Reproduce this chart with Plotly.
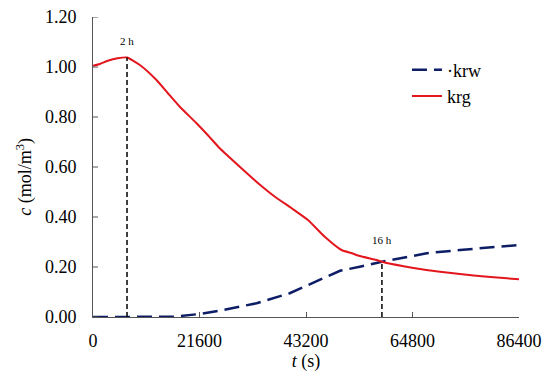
import plotly.graph_objects as go

# krg (red, solid)
t_krg = [0, 1400, 3000, 5000, 6900, 9500, 12870, 15200, 17600, 21000, 23400, 25700,
         30100, 33500, 36900, 40300, 43600, 47000, 50400, 52500, 54100, 57500, 58600,
         63000, 67600, 74400, 80000, 86400]
c_krg = [1.005, 1.012, 1.025, 1.035, 1.038, 1.008, 0.948, 0.895, 0.841, 0.775, 0.725, 0.675,
         0.595, 0.535, 0.481, 0.435, 0.388, 0.321, 0.268, 0.255, 0.244, 0.228, 0.221,
         0.203, 0.188, 0.172, 0.161, 0.151]

# krw (navy, dashed)
t_krw = [0, 6900, 12000, 16200, 21600, 26400, 33200, 39900, 46700, 50100, 54100, 58600,
         67700, 74400, 86400]
c_krw = [0.0, 0.0, 0.0, 0.001, 0.012, 0.028, 0.055, 0.095, 0.155, 0.185, 0.201, 0.221,
         0.255, 0.268, 0.288]

# marker lines
mark_t = [6900, 58600]
mark_c = [1.038, 0.221]
mark_labels = ["2 h", "16 h"]
label_c = [1.105, 0.31]

x_ticks = [0, 21600, 43200, 64800, 86400]
y_ticks = [0.0, 0.2, 0.4, 0.6, 0.8, 1.0, 1.2]

RED = "#E3161E"
BLUE = "#0D1D66"
FONT = "Liberation Serif"

fig = go.Figure()
fig.add_trace(go.Scatter(x=t_krw, y=c_krw, mode="lines", name="\u00b7krw",
                         line=dict(color=BLUE, width=2.5, dash="15px,7px")))
fig.add_trace(go.Scatter(x=t_krg, y=c_krg, mode="lines", name="krg",
                         line=dict(color=RED, width=2, shape="spline", smoothing=0.5)))

for tm, cm, lab, lc in zip(mark_t, mark_c, mark_labels, label_c):
    fig.add_shape(type="line", x0=tm, x1=tm, y0=0, y1=cm, xref="x", yref="y",
                  line=dict(color="black", width=1.5, dash="5px,3px"))
    fig.add_annotation(x=tm, y=lc, text=lab, showarrow=False, xref="x", yref="y",
                       font=dict(family=FONT, size=11, color="black"))

# inside tick marks on the y axis (labels pushed out by transparent outside ticks)
for v in y_ticks:
    fig.add_shape(type="line", xref="paper", yref="y", x0=0, x1=5 / 426, y0=v, y1=v,
                  line=dict(color="#555", width=1))

# y-axis title as a rotated annotation
fig.add_annotation(x=-0.16, y=0.467, xref="paper", yref="paper", xanchor="center",
                   yanchor="middle", textangle=-90, showarrow=False,
                   text="<i>c</i> (mol/m<sup>3</sup>)", font=dict(family=FONT, size=18))

fig.update_layout(
    width=550, height=376,
    margin=dict(l=93, r=31, t=17, b=59, autoexpand=False),
    paper_bgcolor="white", plot_bgcolor="white",
    font=dict(family=FONT, size=18, color="black"),
    showlegend=True,
    legend=dict(x=0.737, y=0.885, xanchor="left", yanchor="top",
                bgcolor="rgba(0,0,0,0)", font=dict(family=FONT, size=18)),
)
fig.update_xaxes(range=[0, 86400], tickvals=x_ticks, ticktext=[str(v) for v in x_ticks],
                 ticks="inside", ticklen=5, tickcolor="#555", showline=True,
                 linecolor="#555", linewidth=1, showgrid=False, zeroline=False,
                 ticklabeloverflow="allow", automargin=False, ticklabelstandoff=7,
                 title=dict(text="<i>t</i> (s)", standoff=2, font=dict(family=FONT, size=18)),
                 tickfont=dict(family=FONT, size=18))
fig.update_yaxes(range=[0, 1.2], tickvals=y_ticks, ticktext=[f"{v:.2f}" for v in y_ticks],
                 ticks="outside", ticklen=12, tickcolor="rgba(0,0,0,0)", showline=True,
                 linecolor="#555", linewidth=1, showgrid=False, zeroline=False,
                 ticklabeloverflow="allow", automargin=False,
                 tickfont=dict(family=FONT, size=18))

fig.write_html("out.html", config={"displayModeBar": False},
               post_script="document.body.style.margin='0';")
